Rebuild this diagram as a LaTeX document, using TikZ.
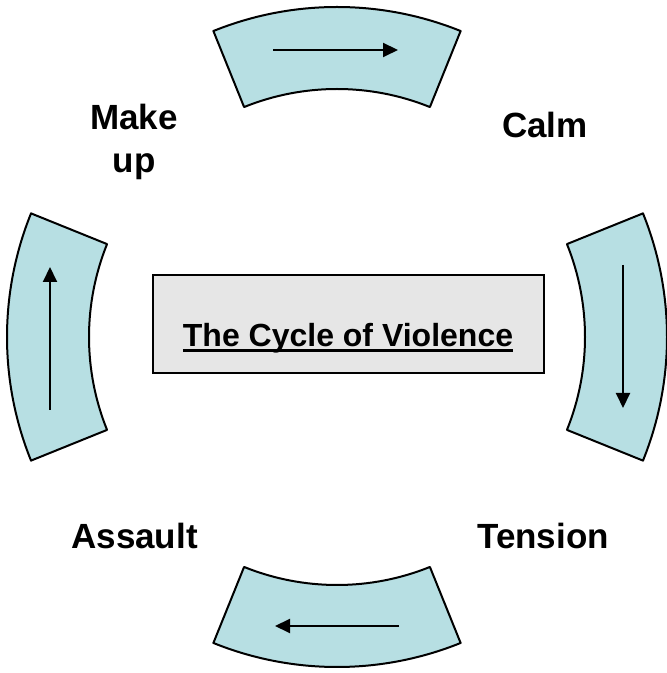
\documentclass[tikz,border=0pt]{standalone}
\usepackage{fontspec}
\setmainfont{Liberation Sans}
\usetikzlibrary{arrows.meta}
\definecolor{sectorfill}{HTML}{B7DFE3}
\definecolor{boxfill}{HTML}{E6E6E6}
\newcommand\myul[1]{\setbox0\hbox{#1}\rlap{\rule[-5.5bp]{\wd0}{3bp}}\box0}
\begin{document}
\begin{tikzpicture}[x=1bp,y=1bp,
  sector/.style={draw=black, line width=2bp, fill=sectorfill, line join=round},
  flow/.style={line width=2bp, -{Triangle[length=15bp,width=14bp]}},
  lbl/.style={font=\fontsize{35bp}{43bp}\selectfont\bfseries, inner sep=0, anchor=base, align=center}]
\useasboundingbox (0,0) rectangle (667,673);
\coordinate (c) at (337,336);
\foreach \a in {90,0,270,180}{
  \draw[sector] ([shift={(c)}]{\a-22}:330) arc[start angle=\a-22, end angle=\a+22, radius=330]
    -- ([shift={(c)}]{\a+22}:248) arc[start angle=\a+22, end angle=\a-22, radius=248] -- cycle;
}
\coordinate (t1) at (273,623); \coordinate (t2) at (398,623);
\coordinate (r1) at (623,408); \coordinate (r2) at (623,265);
\coordinate (b1) at (399,47);  \coordinate (b2) at (275,47);
\coordinate (l1) at (50,263);  \coordinate (l2) at (50,406);
\draw[flow] (t1) -- (t2);
\draw[flow] (r1) -- (r2);
\draw[flow] (b1) -- (b2);
\draw[flow] (l1) -- (l2);
\node[draw, line width=2bp, fill=boxfill, minimum width=391bp, minimum height=98bp, inner sep=0] (box) at (348.5,349) {};
\node[font=\fontsize{32bp}{38bp}\selectfont\bfseries, anchor=base, inner sep=0] (title) at (348,326) {\myul{The Cycle of Violence}};
\node[lbl] (makeup) at (134,500) {Make\\up};
\node[lbl] (calm) at (545,535) {Calm};
\node[lbl] (assault) at (134.5,124) {Assault};
\node[lbl] (tension) at (543,124) {Tension};
\end{tikzpicture}
\end{document}
